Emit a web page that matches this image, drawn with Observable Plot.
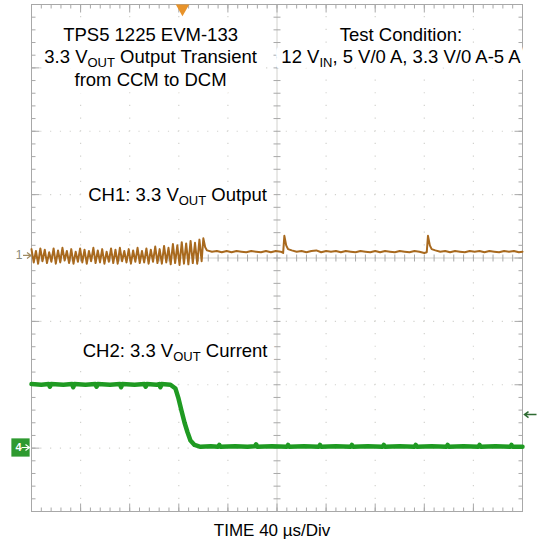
<!DOCTYPE html>
<html><head><meta charset="utf-8">
<script src="https://cdn.jsdelivr.net/npm/d3@7"></script>
<script src="https://cdn.jsdelivr.net/npm/@observablehq/plot@0.6"></script>
<style>
html,body{margin:0;padding:0;background:#fff;}
svg{display:block;}
</style></head><body><div id="chart"></div>
<script>
// ---- Data (time in µs, amplitude in screen divisions) ----
const ch1Samples = [
  [0,0.14],[1.8,-0.07],[3.6,0.11],[5.4,-0.09],[7.2,0.15],[9,-0.05],[10.8,0.13],[12.6,-0.08],
  [14.4,0.09],[16.2,-0.06],[18,0.15],[19.8,-0.09],[21.6,0.12],[23.4,-0.07],[25.2,0.16],[27,-0.04],
  [28.8,0.11],[30.6,-0.08],[32.4,0.14],[34.2,-0.09],[36,0.10],[37.8,-0.06],[39.6,0.15],[41.4,-0.07],
  [43.2,0.13],[45,-0.09],[46.8,0.11],[48.6,-0.05],[50.4,0.16],[52.2,-0.08],[54,0.12],[55.8,-0.07],
  [57.6,0.14],[59.4,-0.09],[61.2,0.10],[63,-0.06],[64.8,0.15],[66.6,-0.08],[68.4,0.13],[70.2,-0.09],
  [72,0.16],[73.8,-0.05],[75.6,0.11],[77.4,-0.07],[79.2,0.14],[81,-0.09],[82.8,0.12],[84.6,-0.06],
  [86.4,0.16],[88.2,-0.08],[90,0.11],[91.8,-0.07],[93.6,0.15],[95.4,-0.09],[97.2,0.13],[99,-0.06],
  [100.8,0.18],[102.6,-0.08],[104.4,0.14],[106.2,-0.09],[108,0.19],[109.8,-0.07],[111.6,0.16],[113.4,-0.10],
  [115.2,0.22],[117,-0.08],[118.8,0.20],[120.6,-0.11],[122.4,0.25],[124.2,-0.09],[126,0.23],[127.8,-0.10],
  [129.6,0.27],[131.4,-0.08],[133.2,0.24],[135,-0.09],[136.8,0.29],[138.6,-0.05],
  [140,0.31],[141.5,0.17],[143,0.12],[147,0.10],[151,0.11],[155,0.09],[159,0.11],[163,0.09],
  [167,0.11],[171,0.10],[175,0.09],[179,0.11],[183,0.10],[187,0.09],[191,0.11],[195,0.09],
  [199,0.11],[203,0.10],[205,0.08],[206,0.35],[207.5,0.20],[209,0.14],[212,0.12],[216,0.10],
  [220,0.11],[224,0.09],[228,0.11],[232,0.12],[236,0.09],[240,0.11],[244,0.10],[248,0.11],
  [252,0.09],[256,0.11],[260,0.10],[264,0.09],[268,0.11],[272,0.10],[276,0.09],[280,0.11],
  [284,0.09],[288,0.11],[292,0.10],[296,0.09],[300,0.11],[304,0.10],[308,0.09],[312,0.11],
  [316,0.10],[320,0.08],[322,0.09],[323,0.35],[324.5,0.20],[326,0.14],[329,0.12],[333,0.10],
  [337,0.11],[341,0.09],[345,0.11],[349,0.10],[353,0.09],[357,0.11],[361,0.10],[365,0.11],
  [369,0.09],[373,0.11],[377,0.10],[381,0.09],[385,0.11],[389,0.10],[393,0.11],[397,0.09],[400,0.10]
];
const ch2Samples = [
  [0,-1.99],[8,-2.0],[14,-1.99],[15,-2.03],[16,-1.99],[26,-2.0],[33,-1.99],[34,-2.04],[35,-1.99],
  [44,-2.0],[52,-1.99],[53,-2.03],[54,-1.99],[64,-2.0],[72,-1.99],[73,-2.04],[74,-1.99],[84,-2.0],
  [92,-1.99],[93,-2.03],[94,-1.99],[102,-2.0],[104,-1.99],[105,-2.04],[106,-1.99],[113.2,-2.0],
  [117.3,-2.06],[119.8,-2.22],[122.2,-2.41],[124.7,-2.60],[127.1,-2.75],[129.5,-2.88],[132.8,-2.95],
  [137.7,-2.98],[146,-2.97],[152,-2.98],[153,-2.95],[154,-2.98],[166,-2.97],[176,-2.98],[182,-2.97],
  [183,-2.94],[184,-2.98],[196,-2.97],[208,-2.98],[209,-2.95],[210,-2.98],[222,-2.97],[234,-2.98],
  [235,-2.95],[236,-2.98],[248,-2.97],[260,-2.98],[261,-2.95],[262,-2.98],[274,-2.97],[286,-2.98],
  [287,-2.95],[288,-2.98],[300,-2.97],[312,-2.98],[313,-2.95],[314,-2.98],[326,-2.97],[338,-2.98],
  [339,-2.95],[340,-2.98],[352,-2.97],[364,-2.98],[365,-2.95],[366,-2.98],[378,-2.97],[390,-2.98],
  [391,-2.95],[392,-2.98],[400,-2.98]
];
const ch1Offset = 0.04;      // channel 1 ground marker (div)
const ch2Offset = -2.99;     // channel 4 ground marker (div)
const triggerTime = 123;     // µs
const triggerLevel = -2.47;  // div
const titleLeft = ["TPS5 1225 EVM-133", "3.3 V{OUT} Output Transient", "from CCM to DCM"];
const titleRight = ["Test Condition:", "12 V{IN}, 5 V/0 A, 3.3 V/0 A-5 A"];
const ch1Label = "CH1: 3.3 V{OUT} Output";
const ch2Label = "CH2: 3.3 V{OUT} Current";
const xLabel = "TIME 40 µs/Div";

// ---- Grid definitions ----
const majorX = d3.range(0, 401, 40);
const minorX = d3.range(0, 401, 8);
const majorY = d3.range(-4, 5, 1);
const minorY = d3.range(-20, 21).map(d => d / 5);
const innerMajorX = majorX.filter(d => d > 0 && d < 400 && d !== 200);
const innerMajorY = majorY.filter(d => d > -4 && d < 4 && d !== 0);

const ch1 = ch1Samples.map(([t, v]) => ({t, v}));
const ch2 = ch2Samples.map(([t, v]) => ({t, v}));

// custom line symbols (length = r px)
const L = s => Math.sqrt(s / Math.PI);
const symUp = {draw(c, s) { const l = L(s); c.moveTo(0, 0); c.lineTo(0, -l); }};
const symDown = {draw(c, s) { const l = L(s); c.moveTo(0, 0); c.lineTo(0, l); }};
const symRight = {draw(c, s) { const l = L(s); c.moveTo(0, 0); c.lineTo(l, 0); }};
const symLeft = {draw(c, s) { const l = L(s); c.moveTo(0, 0); c.lineTo(-l, 0); }};
const symH = {draw(c, s) { const l = L(s); c.moveTo(-l, 0); c.lineTo(l, 0); }};
const symV = {draw(c, s) { const l = L(s); c.moveTo(0, -l); c.lineTo(0, l); }};
// small arrow pointing right (tip at +l), and pointing left (tip at -l)
const symArrowR = {draw(c, s) { const l = L(s); c.moveTo(-l, 0); c.lineTo(l, 0); c.moveTo(l - 4, -3); c.lineTo(l, 0); c.lineTo(l - 4, 3); }};
const symArrowL = {draw(c, s) { const l = L(s); c.moveTo(l, 0); c.lineTo(-l, 0); c.moveTo(-l + 4, -3); c.lineTo(-l, 0); c.lineTo(-l + 4, 3); }};

const gridColor = "#d2d2ce";
const frameColor = "#a8a8a8";
const ch1Color = "#A8691E";
const ch2Color = "#1F9A22";
const font = "'Liberation Sans', Arial, sans-serif";

const tickDots = (data, opts, sym, r) => Plot.dot(data, {...opts, symbol: sym, r, fill: "none", stroke: frameColor, strokeWidth: 1});

const fs = 18.5;
// text drawn twice: a white halo layer beneath, then the black glyphs
const labelPair = (data, opts) => [
  Plot.text(data, {...opts, fill: "white", stroke: "white", strokeWidth: 14, strokeLinejoin: "round", fontSize: fs, lineAnchor: "bottom"}),
  Plot.text(data, {...opts, fill: "#000", fontSize: fs, lineAnchor: "bottom"})
];

const chart = Plot.plot({
  width: 537,
  height: 544,
  marginLeft: 31,
  marginRight: 15,
  marginTop: 4,
  marginBottom: 33,
  x: {domain: [0, 400], axis: null},
  y: {domain: [-4, 4], axis: null},
  style: {fontFamily: font, background: "white"},
  marks: [
    // dotted grid
    Plot.ruleX(innerMajorX, {stroke: gridColor, strokeWidth: 1.2, strokeDasharray: "1.2,11.475", strokeDashoffset: 0.6}),
    Plot.ruleY(innerMajorY, {stroke: gridColor, strokeWidth: 1.2, strokeDasharray: "1.2,8.62", strokeDashoffset: 0.6}),
    // center crosshair
    Plot.ruleX([200], {stroke: gridColor}),
    Plot.ruleY([0], {stroke: gridColor}),
    tickDots(minorY, {x: () => 200, y: d => d}, symH, 3.5),
    tickDots(minorX, {x: d => d, y: () => 0}, symV, 3.5),
    // frame ticks
    tickDots(minorX, {x: d => d, y: () => -4}, symUp, 4),
    tickDots(majorX, {x: d => d, y: () => -4}, symUp, 8),
    tickDots(minorX, {x: d => d, y: () => 4}, symDown, 4),
    tickDots(majorX, {x: d => d, y: () => 4}, symDown, 8),
    tickDots(minorY, {x: () => 0, y: d => d}, symRight, 4),
    tickDots(majorY, {x: () => 0, y: d => d}, symRight, 8),
    tickDots(minorY, {x: () => 400, y: d => d}, symLeft, 4),
    tickDots(majorY, {x: () => 400, y: d => d}, symLeft, 8),
    Plot.frame({stroke: frameColor}),
    // traces
    Plot.line(ch1, {x: "t", y: "v", stroke: ch1Color, strokeWidth: 2}),
    Plot.line(ch2, {x: "t", y: "v", stroke: ch2Color, strokeWidth: 4.5}),
    // annotations
    ...labelPair(titleLeft, {x: () => 97, y: (d, i) => [3.43, 3.07, 2.71][i], text: d => d}),
    ...labelPair(titleRight, {x: () => 301, y: (d, i) => [3.42, 3.07][i], text: d => d}),
    ...labelPair([ch1Label], {x: () => 119, y: () => 0.907, text: d => d}),
    ...labelPair([ch2Label], {x: () => 117, y: () => -1.57, text: d => d}),
    Plot.text([xLabel], {x: () => 196, frameAnchor: "bottom", dy: 24, text: d => d, fontSize: 17, fill: "#000", lineAnchor: "bottom"}),
    // channel / trigger markers
    Plot.text(["1"], {frameAnchor: "left", y: () => ch1Offset, text: d => d, textAnchor: "end", dx: -9, fontSize: 12, fill: "#8a8a7a"}),
    Plot.dot([ch1Offset], {frameAnchor: "left", y: d => d, dx: -4.5, symbol: symArrowR, r: 4, fill: "none", stroke: "#a08a60", strokeWidth: 1.2}),
    Plot.dot([ch2Offset], {frameAnchor: "left", y: d => d, dx: -11, symbol: "square", r: 10.3, fill: "#2E9A30", stroke: "none"}),
    Plot.text(["4"], {frameAnchor: "left", y: () => ch2Offset, text: d => d, dx: -16, fontSize: 11, fontWeight: "bold", fill: "white"}),
    Plot.dot([ch2Offset], {frameAnchor: "left", y: d => d, dx: -6, symbol: symArrowR, r: 4, fill: "none", stroke: "white", strokeWidth: 1.2}),
    Plot.dot([triggerTime], {x: d => d, frameAnchor: "top", dy: 4, symbol: "triangle", rotate: 180, r: 5, fill: "#E8932A", stroke: "none"}),
    Plot.dot([triggerLevel], {frameAnchor: "right", y: d => d, dx: 8, symbol: symArrowL, r: 6, fill: "none", stroke: "#2f6b33", strokeWidth: 1.5})
  ]
});

// subscripts: turn "{...}" into smaller, lowered tspans
const NS = "http://www.w3.org/2000/svg";
chart.querySelectorAll("text").forEach(t => {
  const s = t.textContent;
  if (!s.includes("{")) return;
  const parts = s.split(/(\{[^}]*\})/).filter(p => p.length);
  t.textContent = "";
  let shifted = false;
  parts.forEach(p => {
    const ts = document.createElementNS(NS, "tspan");
    if (p.startsWith("{")) {
      ts.textContent = p.slice(1, -1);
      ts.setAttribute("font-size", "13");
      ts.setAttribute("dy", "4");
      shifted = true;
    } else {
      ts.textContent = p;
      if (shifted) { ts.setAttribute("dy", "-4"); shifted = false; }
    }
    t.appendChild(ts);
  });
});

document.getElementById("chart").appendChild(chart);
</script>
</body></html>
